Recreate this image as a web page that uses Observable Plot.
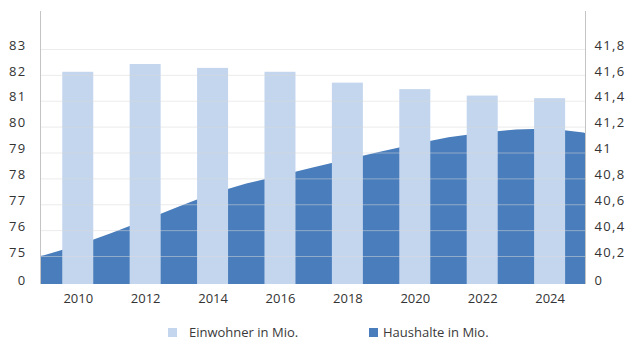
<!DOCTYPE html>
<html><head><meta charset="utf-8">
<script src="https://cdn.jsdelivr.net/npm/d3@7"></script>
<script src="https://cdn.jsdelivr.net/npm/@observablehq/plot@0.6"></script>
<style>
body{margin:0;background:#fff;font-family:"Open Sans",sans-serif;}
#chart{width:626px;height:341px;position:relative;overflow:hidden;background:#fff}
#chart svg g[aria-label="y-axis tick label"] text{letter-spacing:1.3px}
.item{position:absolute;top:323px;height:18px;display:flex;align-items:center;font-size:13px;color:#3a3a3a;white-space:nowrap}
.sw{width:9px;height:9px;display:inline-block}
</style></head><body><div id="chart"></div>
<script>
// Data
const barYears = [2010, 2012, 2014, 2016, 2018, 2020, 2022, 2024];
const einwohner = [82.12, 82.42, 82.27, 82.12, 81.70, 81.45, 81.20, 81.10];
const areaYears = [2008, 2009, 2010, 2011, 2012, 2013, 2014, 2015, 2016, 2017, 2018, 2019, 2020, 2021, 2022, 2023, 2024, 2025, 2026];
const haushalte = [40.15, 40.206, 40.283, 40.378, 40.478, 40.583, 40.684, 40.760, 40.823, 40.887, 40.948, 41.008, 41.065, 41.117, 41.153, 41.178, 41.185, 41.154, 41.105];
const leftTickValues = [0, 75, 76, 77, 78, 79, 80, 81, 82, 83];
const leftTickLabels = ["0", "75", "76", "77", "78", "79", "80", "81", "82", "83"];
const rightTickValues = [0, 40.2, 40.4, 40.6, 40.8, 41.0, 41.2, 41.4, 41.6, 41.8];
const rightTickLabels = ["0", "40,2", "40,4", "40,6", "40,8", "41", "41,2", "41,4", "41,6", "41,8"];
const yearTicks = [2010, 2012, 2014, 2016, 2018, 2020, 2022, 2024];
const seriesNames = ["Einwohner in Mio.", "Haushalte in Mio."];
const seriesColors = ["#c4d6ee", "#4a7dbb"];

// Broken axis: "0" sits just below 75 (left) / 40,2 (right)
const yBase = 73.918, yTop = 84.469;
const xDomain = [2008.88, 2025.05];
const leftPos = v => v === 0 ? yBase : v;
const rightPos = v => v === 0 ? yBase : 75 + (v - 40.2) * 5;

const bars = barYears.map((year, i) => ({year, value: einwohner[i]}));
const area = areaYears.map((year, i) => ({year, value: rightPos(haushalte[i])}));
const leftMap = new Map(leftTickValues.map((v, i) => [leftPos(v).toFixed(3), leftTickLabels[i]]));
const rightMap = new Map(rightTickValues.map((v, i) => [rightPos(v).toFixed(3), rightTickLabels[i]]));
const gridVals = leftTickValues.filter(v => v !== 0);

const chart = Plot.plot({
  width: 626, height: 312,
  marginLeft: 40, marginRight: 41, marginTop: 11, marginBottom: 28,
  style: {fontFamily: "'Open Sans', sans-serif", fontSize: "13px", color: "#333", background: "#fff"},
  x: {domain: xDomain, axis: null},
  y: {domain: [yBase, yTop], axis: null},
  marks: [
    Plot.area(area, {x1: "year", y1: yBase, y2: "value", fill: seriesColors[1], clip: true}),
    Plot.rectY(bars, {x1: d => d.year - 0.46, x2: d => d.year + 0.46, y1: yBase, y2: "value", fill: seriesColors[0]}),
    Plot.ruleY(gridVals, {stroke: "#dadada", strokeOpacity: 0.5}),
    Plot.ruleX([xDomain[0]], {y1: yBase, y2: yTop, stroke: "#c4c4c4"}),
    Plot.ruleX([xDomain[1]], {y1: yBase, y2: yTop, stroke: "#c4c4c4"}),
    Plot.axisY(leftTickValues.map(leftPos), {anchor: "left", label: null, tickSize: 0, tickPadding: 14, dy: -4, tickFormat: d => leftMap.get(d.toFixed(3))}),
    Plot.axisY(rightTickValues.map(rightPos), {anchor: "right", label: null, tickSize: 0, tickPadding: 9, dy: -4, tickFormat: d => rightMap.get(d.toFixed(3))}),
    Plot.axisX(yearTicks, {anchor: "bottom", label: null, tickSize: 0, tickPadding: 9, tickFormat: d => String(d)})
  ]
});
const root = document.getElementById("chart");
root.appendChild(chart);

const legendLeft = [168, 369];
const textGap = [12, 5];
seriesNames.forEach((name, i) => {
  const it = document.createElement("div");
  it.className = "item";
  it.style.left = legendLeft[i] + "px";
  const sw = document.createElement("span");
  sw.className = "sw";
  sw.style.background = seriesColors[i];
  sw.style.marginRight = textGap[i] + "px";
  const tx = document.createElement("span");
  tx.textContent = name;
  it.appendChild(sw); it.appendChild(tx);
  root.appendChild(it);
});
</script>
</body></html>
